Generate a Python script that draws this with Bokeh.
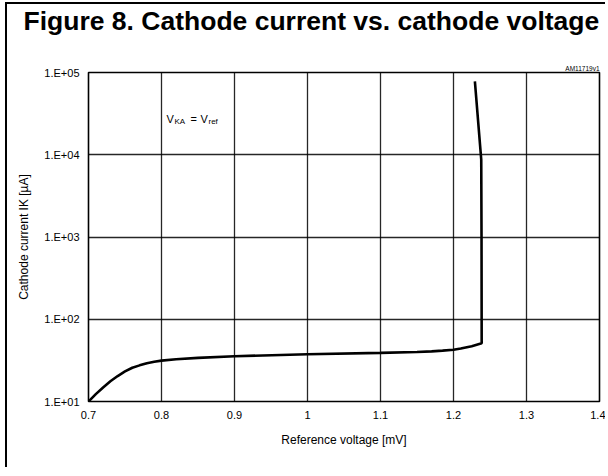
from bokeh.plotting import figure
from bokeh.models import FixedTicker, Label, Title
from bokeh.embed import file_html
from bokeh.resources import INLINE

# ---- data ----
voltage = [0.700, 0.710, 0.720, 0.730, 0.740, 0.750, 0.760, 0.770, 0.780, 0.790,
           0.800, 0.820, 0.850, 0.900, 1.000, 1.100, 1.150, 1.170, 1.185, 1.200,
           1.210, 1.225, 1.2386, 1.2384, 1.2380, 1.2293]
current = [10.0, 12.3, 14.8, 17.6, 20.4, 23.2, 25.7, 27.5, 29.2, 30.4,
           31.4, 32.7, 33.9, 35.5, 37.6, 39.0, 40.0, 40.7, 41.5, 42.5,
           44.0, 47.0, 51.0, 1000.0, 8700.0, 78000.0]

x_ticks = [0.7, 0.8, 0.9, 1.0, 1.1, 1.2, 1.3, 1.4]
x_labels = ["0.7", "0.8", "0.9", "1", "1.1", "1.2", "1.3", "1.4"]
y_ticks = [10.0, 100.0, 1000.0, 10000.0, 100000.0]
y_labels = ["1.E+01", "1.E+02", "1.E+03", "1.E+04", "1.E+05"]

FONT = "Liberation Sans"
W, H = 600, 465
CW, CH = W - 2, H - 2            # canvas size inside the 2px left/top border
BL, BT, BB, BR = 81, 68, 68, 8   # borders around the frame
FB = CH - BB                     # canvas y of frame bottom


def fx(cx):
    return cx - BL


def fy(cy):
    return FB - cy


p = figure(width=W, height=H, output_backend="svg", toolbar_location=None,
           y_axis_type="log", x_range=(0.7, 1.4), y_range=(10, 100000),
           min_border_left=BL, min_border_right=BR, min_border_top=BT,
           min_border_bottom=BB, margin=(2, 0, 0, 5),
           styles={"border-left": "2px solid black", "border-top": "2px solid black"})
p.background_fill_color = "white"
p.border_fill_color = "white"
p.outline_line_color = "black"
p.outline_line_width = 1.6

for ax in (p.xaxis[0], p.yaxis[0]):
    ax.axis_line_color = None
    ax.major_tick_line_color = None
    ax.minor_tick_line_color = None
    ax.major_label_text_font = FONT
    ax.major_label_text_font_size = "11px"
    ax.major_label_text_color = "black"
    ax.axis_label_text_font = FONT
    ax.axis_label_text_font_size = "12px"
    ax.axis_label_text_font_style = "normal"
    ax.axis_label_text_color = "black"

p.xaxis.ticker = FixedTicker(ticks=x_ticks)
p.xaxis.major_label_overrides = dict(zip(x_ticks, x_labels))
p.xaxis.major_label_standoff = 3
p.xaxis.axis_label = "Reference voltage [mV]"
p.xaxis.axis_label_standoff = 11

p.yaxis.ticker = FixedTicker(ticks=y_ticks)
p.yaxis.major_label_overrides = dict(zip(y_ticks, y_labels))
p.yaxis.major_label_standoff = 3
p.yaxis.axis_label = "Cathode current IK [µA]"
p.yaxis.axis_label_standoff = 10

p.xgrid.ticker = FixedTicker(ticks=x_ticks)
p.ygrid.ticker = FixedTicker(ticks=y_ticks)
for g in (p.xgrid[0], p.ygrid[0]):
    g.grid_line_color = "black"
    g.grid_line_width = 1.3
    g.grid_line_alpha = 0.85

p.line(voltage, current, line_color="black", line_width=2.6)

# drawing id (closest to the frame)
p.add_layout(Title(text="AM11719v1", align="right", text_font=FONT,
                   text_font_size="6.5px", text_font_style="normal",
                   text_color="black", standoff=1), "above")
# main title: trailing blank lines make room so the text sits near the top edge
p.title = Title(text="Figure 8. Cathode current vs. cathode voltage\n\n", align="left",
                offset=-65, standoff=-67, text_font=FONT, text_font_size="26.5px",
                text_line_height=1.0, text_font_style="bold", text_color="black")

# annotation V_KA = V_ref
ann = [("V", 159, 112, "11px"), ("KA", 167, 115, "8px"), ("=", 183, 112, "11px"),
       ("V", 193, 112, "11px"), ("ref", 201, 115, "8px")]
for t, xx, yy, fs in ann:
    p.add_layout(Label(x=fx(xx), y=fy(yy), x_units="screen", y_units="screen", text=t,
                       text_font=FONT, text_font_size=fs, text_color="black",
                       text_baseline="alphabetic", text_align="left"))

open("out.html", "w").write(file_html(p, INLINE))
